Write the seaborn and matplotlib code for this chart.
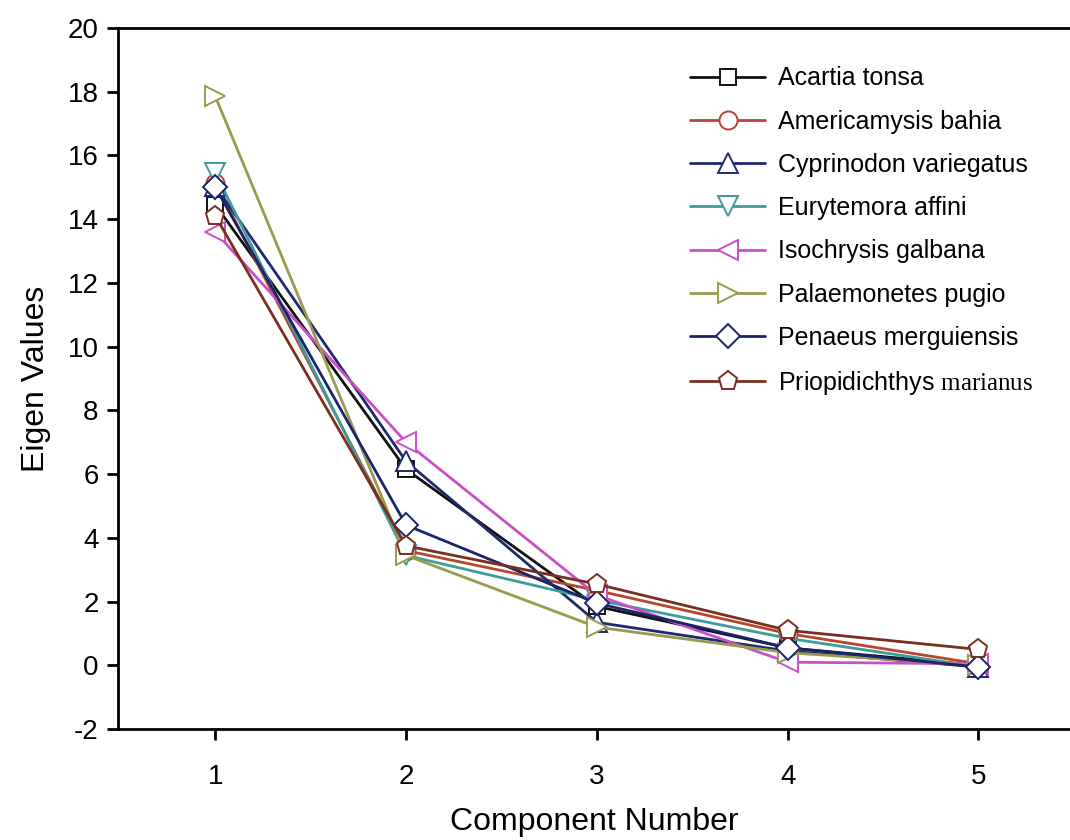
import matplotlib
matplotlib.use("Agg")
import matplotlib.pyplot as plt
import seaborn as sns
import pandas as pd

# Eigenvalues of the first five principal components for each species
components = [1, 2, 3, 4, 5]
species = [
    "Acartia tonsa",
    "Americamysis bahia",
    "Cyprinodon variegatus",
    "Eurytemora affini",
    "Isochrysis galbana",
    "Palaemonetes pugio",
    "Penaeus merguiensis",
    "Priopidichthys marianus",
]
acartia_tonsa = [14.45, 6.15, 1.85, 0.55, 0.00]
americamysis_bahia = [15.15, 3.60, 2.35, 1.00, 0.05]
cyprinodon_variegatus = [15.05, 6.40, 1.35, 0.45, -0.05]
eurytemora_affini = [15.45, 3.45, 2.05, 0.85, -0.05]
isochrysis_galbana = [13.60, 7.00, 2.20, 0.10, 0.05]
palaemonetes_pugio = [17.85, 3.45, 1.20, 0.40, 0.00]
penaeus_merguiensis = [15.00, 4.40, 1.95, 0.55, -0.05]
priopidichthys_marianus = [14.10, 3.75, 2.55, 1.10, 0.50]

values = [
    acartia_tonsa, americamysis_bahia, cyprinodon_variegatus, eurytemora_affini,
    isochrysis_galbana, palaemonetes_pugio, penaeus_merguiensis, priopidichthys_marianus,
]

colors = ["#111111", "#B5472F", "#1E2A6E", "#3E9C9C",
          "#C94FC9", "#9A9A4E", "#1B2468", "#7A2E1F"]
markers = ["s", "o", "^", "v", "<", ">", "D", "p"]
sizes = [12, 13, 14, 14, 14, 14, 12, 14]

df = pd.DataFrame(
    [(s, c, v) for s, vals in zip(species, values) for c, v in zip(components, vals)],
    columns=["species", "component", "eigen"],
)

sns.set_style("ticks")
plt.rcParams["font.family"] = ["Liberation Sans", "DejaVu Sans"]
plt.rcParams["mathtext.fontset"] = "custom"
plt.rcParams["mathtext.rm"] = "Liberation Serif"
plt.rcParams["axes.unicode_minus"] = False
plt.rcParams["text.color"] = "black"
plt.rcParams["axes.labelcolor"] = "black"
plt.rcParams["xtick.color"] = "black"
plt.rcParams["ytick.color"] = "black"

fig = plt.figure(figsize=(10.7, 8.4), dpi=100)
ax = fig.add_axes([0.1103, 0.132, 0.8897, 0.8347])

sns.lineplot(
    data=df, x="component", y="eigen", hue="species", style="species",
    hue_order=species, style_order=species,
    palette=dict(zip(species, colors)),
    markers=dict(zip(species, markers)), dashes=False,
    linewidth=2.0, legend=False, ax=ax,
)

for line, c, ms in zip(ax.lines, colors, sizes):
    line.set_markerfacecolor("white")
    line.set_markeredgecolor(c)
    line.set_markeredgewidth(1.4)
    line.set_markersize(ms)

labels = species[:-1] + [r"Priopidichthys $\mathrm{marianus}$"]
ax.legend(
    handles=ax.lines, labels=labels, frameon=False, numpoints=1,
    loc="upper left", bbox_to_anchor=(0.645, 0.921), bbox_transform=fig.transFigure,
    fontsize=18, handlelength=3.0, handletextpad=0.5, labelspacing=0.77,
    borderpad=0, borderaxespad=0,
)

ax.set_xlim(0.49, 5.48)
ax.set_ylim(-2, 20)
ax.set_xticks(components)
ax.set_yticks(range(-2, 21, 2))
ax.tick_params(axis="both", labelsize=20, width=2, length=8, direction="out",
               colors="black")
ax.tick_params(axis="x", pad=17)
ax.tick_params(axis="y", pad=6)
for side in ["left", "bottom", "top"]:
    ax.spines[side].set_linewidth(2)
    ax.spines[side].set_color("black")
ax.spines["right"].set_visible(False)
ax.spines["top"].set_visible(True)

ax.set_xlabel("Component Number", fontsize=23, labelpad=12, color="black")
ax.set_ylabel("Eigen Values", fontsize=23, labelpad=12, color="black")

fig.savefig("out.png", dpi=100, facecolor="white")
